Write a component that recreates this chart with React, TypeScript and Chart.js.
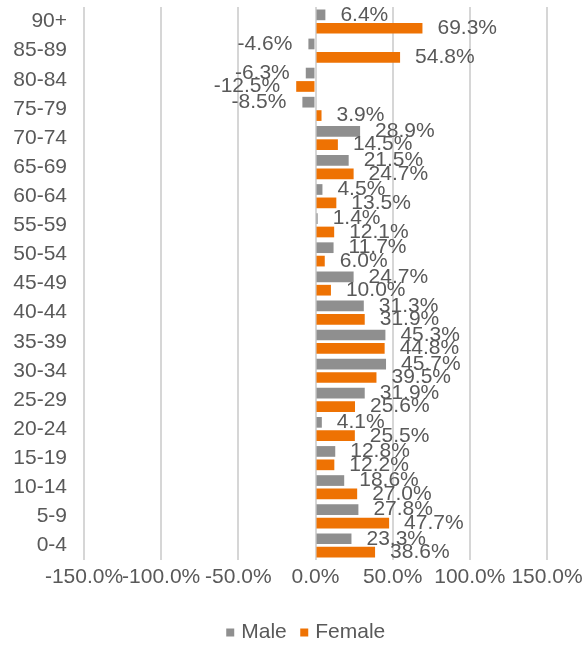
import React, { useEffect, useRef } from "react";
import { Chart, registerables } from "chart.js";

Chart.register(...registerables);

const categories = ["90+", "85-89", "80-84", "75-79", "70-74", "65-69", "60-64", "55-59", "50-54", "45-49", "40-44", "35-39", "30-34", "25-29", "20-24", "15-19", "10-14", "5-9", "0-4"];
const maleValues = [6.4, -4.6, -6.3, -8.5, 28.9, 21.5, 4.5, 1.4, 11.7, 24.7, 31.3, 45.3, 45.7, 31.9, 4.1, 12.8, 18.6, 27.8, 23.3];
const femaleValues = [69.3, 54.8, -12.5, 3.9, 14.5, 24.7, 13.5, 12.1, 6.0, 10.0, 31.9, 44.8, 39.5, 25.6, 25.5, 12.2, 27.0, 47.7, 38.6];
const seriesNames = ["Male", "Female"];
const xMin = -150;
const xMax = 150;
const xStep = 50;

const FONT = "'Liberation Sans', Arial, sans-serif";
const FONT_SIZE = 21;
const TEXT = "#595959";
const MALE_COLOR = "#8f8f8f";
const FEMALE_COLOR = "#ee7203";

const fmt = (v: number) => Number(v).toFixed(1) + "%";

const valueLabelPlugin = {
  id: "valueLabels",
  afterLayout(chart: any) {
    // centre the legend under the plot like the reference
    const lg = chart.legend;
    if (lg) {
      lg.left += 68;
      lg.width -= 68;
    }
  },
  afterDatasetsDraw(chart: any) {
    const ctx = chart.ctx;
    ctx.save();
    ctx.font = `${FONT_SIZE}px ${FONT}`;
    ctx.fillStyle = TEXT;
    ctx.textBaseline = "middle";
    chart.data.datasets.forEach((ds: any, di: number) => {
      const meta = chart.getDatasetMeta(di);
      if (meta.hidden) return;
      meta.data.forEach((el: any, i: number) => {
        const v = ds.data[i];
        const { x, y } = el.getProps(["x", "y"], true);
        if (v >= 0) {
          ctx.textAlign = "left";
          ctx.fillText(fmt(v), x + 15, y);
        } else {
          ctx.textAlign = "right";
          ctx.fillText(fmt(v), x - 16, y);
        }
      });
    });
    ctx.restore();
  },
};

export default function App() {
  const ref = useRef<HTMLCanvasElement>(null);

  useEffect(() => {
    const chart = new Chart(ref.current as HTMLCanvasElement, {
      type: "bar",
      data: {
        labels: categories,
        datasets: [
          {
            label: seriesNames[0],
            data: maleValues,
            backgroundColor: MALE_COLOR,
            categoryPercentage: 0.92,
            barPercentage: 0.8,
          },
          {
            label: seriesNames[1],
            data: femaleValues,
            backgroundColor: FEMALE_COLOR,
            categoryPercentage: 0.92,
            barPercentage: 0.8,
          },
        ],
      },
      options: {
        indexAxis: "y",
        responsive: false,
        animation: false,
        layout: { padding: { top: 7, right: 39, left: 0, bottom: -8 } },
        plugins: {
          legend: {
            position: "bottom",
            labels: {
              usePointStyle: true,
              pointStyle: "rect",
              boxWidth: 1,
              boxHeight: 8,
              padding: 17,
              color: TEXT,
              font: { family: FONT, size: FONT_SIZE },
            },
          },
          tooltip: { enabled: false },
        },
        scales: {
          x: {
            min: xMin,
            max: xMax,
            grid: { color: "#d6d6d6", lineWidth: 2, drawTicks: false },
            border: { display: false },
            ticks: {
              stepSize: xStep,
              autoSkip: false,
              maxRotation: 0,
              padding: 5,
              color: TEXT,
              font: { family: FONT, size: FONT_SIZE },
              callback: (v: any) => fmt(Number(v)),
            },
            afterFit: (s: any) => {
              s.paddingLeft = 0;
              s.paddingRight = 0;
              s.height = 45;
            },
          },
          y: {
            grid: { display: false, drawTicks: false },
            border: { display: false },
            ticks: {
              padding: 17,
              autoSkip: false,
              color: TEXT,
              font: { family: FONT, size: FONT_SIZE },
            },
            afterFit: (s: any) => {
              s.width = 84;
              s.paddingTop = 0;
              s.paddingBottom = 0;
            },
          },
        },
      },
      plugins: [valueLabelPlugin],
    } as any);
    return () => chart.destroy();
  }, []);

  return (
    <div style={{ position: "absolute", left: 0, top: 0, width: 586, height: 645, background: "#fff" }}>
      <canvas ref={ref} width={586} height={645} style={{ display: "block", width: 586, height: 645 }} />
    </div>
  );
}
